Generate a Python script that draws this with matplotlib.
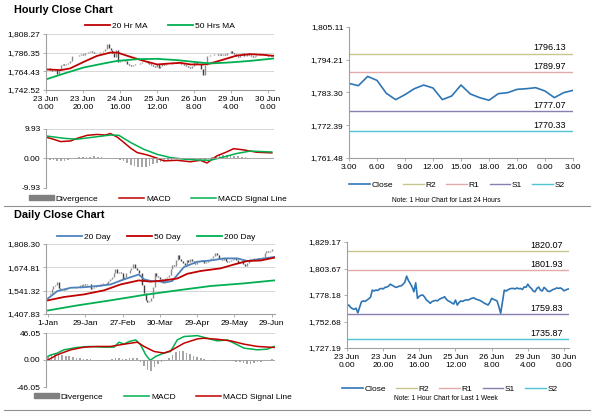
import numpy as np
import matplotlib.pyplot as plt
from matplotlib.lines import Line2D
from matplotlib.patches import Patch

plt.rcParams["font.family"] = ["Liberation Sans", "DejaVu Sans"]

# ---- hourly data (one week, bar index) ----
hourly_ticks = ["23 Jun\n0.00", "23 Jun\n20.00", "24 Jun\n16.00", "25 Jun\n12.00",
                "26 Jun\n8.00", "29 Jun\n4.00", "30 Jun\n0.00"]
hourly_close = [
    1767.9, 1768.5, 1766.3, 1765.0, 1764.4, 1765.5, 1761.0, 1766.5, 1771.7, 1772.5,
    1772.0, 1773.3, 1774.5, 1776.0, 1782.9, 1782.0, 1783.0, 1782.5, 1784.0, 1784.5,
    1784.0, 1785.5, 1785.8, 1786.8, 1788.6, 1787.5, 1786.5, 1785.5, 1786.0, 1786.8,
    1787.0, 1788.5, 1790.5, 1796.3, 1792.0, 1789.2, 1786.0, 1781.3, 1789.9, 1774.9,
    1777.0, 1778.0, 1778.1, 1776.0, 1773.3, 1772.0, 1770.2, 1771.8, 1772.5, 1773.0,
    1772.5, 1774.0, 1774.9, 1775.5, 1776.5, 1774.0, 1772.5, 1771.7, 1770.5, 1769.5,
    1773.3, 1768.5, 1771.0, 1772.5, 1772.0, 1773.0, 1773.5, 1773.3, 1774.2, 1775.0,
    1775.5, 1774.5, 1773.8, 1773.3, 1772.5, 1771.5, 1770.2, 1769.5, 1768.5, 1771.0,
    1774.9, 1774.0, 1773.3, 1772.5, 1766.9, 1760.6, 1771.5, 1782.9, 1782.0, 1783.2,
    1784.0, 1784.5, 1784.5, 1784.0, 1785.0, 1784.2, 1784.5, 1783.5, 1786.0, 1785.5,
    1788.6, 1786.0, 1784.5, 1782.0, 1781.3, 1784.5, 1785.8, 1783.0, 1782.0, 1785.5,
    1784.0, 1782.0, 1781.5, 1782.5, 1783.5, 1784.0, 1785.0, 1784.5, 1785.0, 1784.0,
    1782.2, 1783.0, 1783.8, 1784.0]

ma20_x = [0, 8, 13, 20.5, 27.7, 34.9, 38.6, 45.8, 53, 60.2, 67.4, 72.8, 78.2, 85.4, 89, 96.2, 103.4, 110.6, 117.8, 123.2]
ma20_y = [1766.7, 1765.9, 1767.8, 1775.6, 1782.6, 1786.5, 1786.5, 1781.4, 1776.7, 1772.5,
          1773.7, 1774.4, 1772.5, 1772.5, 1773.7, 1778.3, 1783.0, 1784.6, 1783.8, 1782.6]
ma50_x = [0, 10, 20.5, 31.3, 38.6, 49.4, 60.2, 71, 81.8, 89, 99.8, 110.6, 123.2]
ma50_y = [1755.0, 1762.0, 1769.0, 1773.7, 1776.7, 1778.7, 1779.1, 1777.6, 1775.2, 1773.7,
          1774.9, 1776.7, 1779.5]

hmacd_x = [0, 3.9, 7.9, 13.3, 16.9, 22.3, 27.7, 32.2, 34.9, 38.6, 42.2, 45.8, 49.4, 54.8, 60.2,
           63.8, 71, 78.2, 83.6, 87.2, 92.6, 97.1, 101.6, 107, 114.2, 122.3]
hmacd_y = [7.2, 6.5, 5.7, 5.9, 6.8, 7.8, 8.1, 7.9, 8.4, 7.2, 5.4, 3.5, 2.0, 1.2, 0.1,
           -0.8, -0.6, -1.1, -0.6, -1.5, 0.9, 2.0, 3.3, 2.9, 2.1, 1.9]
hsig_x = [0, 9.7, 16.9, 25.9, 34.9, 39.5, 45.8, 53, 60.2, 67.4, 74.6, 81.8, 89, 96.2, 103.4, 110.6, 117.8, 122.3]
hsig_y = [7.6, 6.8, 6.5, 7.2, 7.9, 7.8, 5.4, 3.1, 1.4, 0.3, -0.2, -0.5, -0.6, 0.5, 1.7, 2.5, 2.3, 2.2]
hdiv = [-0.2, -0.4, -0.6, -0.8, -0.9, -0.8, -0.5, 0.0, 0.3, 0.4, 0.5, 0.6, 0.6, 0.7, 0.6, 0.5,
        0.3, 0.2, 0.0, -0.2, -0.5, -1.0, -1.6, -2.2, -2.6, -2.9, -3.0, -2.8, -2.4, -2.0, -1.5,
        -1.1, -0.8, -0.6, -0.4, -0.3, -0.2, -0.2, -0.3, -0.4, -0.3, -0.2, -0.3, -0.5, 0.2, 0.6,
        0.9, 1.1, 1.3, 1.3, 1.2, 1.0, 0.8, 0.6, 0.4, 0.3, 0.2, 0.1, 0.0, -0.1, 0.0, 0.0]

# ---- last 24 hours ----
day_ticks = ["3.00", "6.00", "9.00", "12.00", "15.00", "18.00", "21.00", "0.00", "3.00"]
day_close = [1786.33, 1785.56, 1788.65, 1787.33, 1783.02, 1780.92, 1782.58, 1784.56, 1785.78,
             1784.79, 1780.92, 1782.13, 1785.78, 1782.80, 1781.58, 1780.70, 1782.91, 1783.24,
             1784.34, 1784.56, 1784.90, 1783.79, 1781.58, 1783.24, 1784.01]
levels_24h = {"R2": 1796.13, "R1": 1789.97, "S1": 1777.07, "S2": 1770.33}
levels_week = {"R2": 1820.07, "R1": 1801.93, "S1": 1759.83, "S2": 1735.87}

# ---- daily data ----
daily_ticks = ["1-Jan", "29-Jan", "27-Feb", "30-Mar", "29-Apr", "29-May", "29-Jun"]
daily_close = [
    1520, 1528, 1552, 1568, 1575, 1590, 1556, 1553, 1550, 1545,
    1551, 1557, 1555, 1558, 1558, 1556, 1562, 1565, 1571, 1568,
    1578, 1576, 1582, 1577, 1553, 1557, 1560, 1567, 1571, 1566,
    1578, 1583, 1586, 1582, 1598, 1610, 1620, 1640, 1663, 1642,
    1650, 1640, 1607, 1620, 1640, 1645, 1660, 1670, 1695, 1670,
    1660, 1645, 1640, 1575, 1530, 1490, 1475, 1480, 1500, 1560,
    1640, 1625, 1620, 1610, 1605, 1590, 1615, 1620, 1630, 1665,
    1690, 1685, 1715, 1745, 1720, 1710, 1700, 1690, 1715, 1705,
    1720, 1710, 1700, 1695, 1705, 1710, 1715, 1712, 1700, 1708,
    1715, 1720, 1730, 1740, 1755, 1745, 1725, 1720, 1715, 1728,
    1712, 1705, 1710, 1718, 1725, 1728, 1715, 1700, 1705, 1710,
    1695, 1685, 1700, 1715, 1725, 1722, 1728, 1730, 1725, 1728,
    1730, 1735, 1755, 1768, 1765, 1770, 1778, 1782]

d20_x = [0, 5.3, 12.8, 20.3, 27.8, 35.3, 42.8, 51.2, 54.1, 57.8, 63.4, 65.3, 70, 76.6, 84.1, 91.6, 99.1, 106.6, 112.2, 117.9, 127.3]
d20_y = [1497, 1539, 1558, 1561, 1568, 1577, 1606, 1634, 1606, 1597, 1594, 1587, 1597, 1677,
         1707, 1714, 1726, 1726, 1711, 1720, 1734]
d50_x = [0, 9, 20.3, 31.5, 40.9, 51.2, 57.8, 65.3, 72.8, 78.5, 86, 97.2, 104.7, 112.2, 119.8, 127.3]
d50_y = [1486, 1505, 1520, 1543, 1577, 1600, 1593, 1600, 1611, 1638, 1654, 1669, 1691, 1711, 1714, 1730]
d200_x = [0, 16.5, 35.3, 54.1, 72.8, 91.6, 110.4, 127.3]
d200_y = [1428, 1457, 1486, 1517, 1543, 1568, 1583, 1600]

dmacd_x = [0, 1.5, 5.3, 9, 16.5, 24, 31.5, 37.2, 40, 42.8, 45.6, 49.4, 52.2, 55, 57.5, 60.7,
           65.3, 69, 72.8, 76.6, 84.1, 89.7, 95.3, 100.9, 104.7, 110.4, 117.9, 123.5, 127.3]
dmacd_y = [6.2, 8.5, 11.8, 17.4, 21.4, 23.1, 21.9, 22, 30.4, 27, 31.5, 34.3, 25.8, 9, -0.6,
           6.2, 11.8, 14.6, 34.3, 40, 41.6, 37.1, 32.6, 34.3, 28.7, 20.2, 17.4, 18.5, 23.1]
dsig_x = [0, 5.3, 12.8, 20.3, 27.8, 35.3, 42.8, 50.3, 54.1, 59.7, 65.3, 69, 76.6, 84.1, 87.8,
          95.3, 102.9, 110.4, 117.9, 127.3]
dsig_y = [0, 9, 17.4, 21.9, 23.1, 23.1, 27, 30.4, 23.1, 14.6, 11.8, 15.7, 28.7, 36, 37.1,
          35.4, 32.6, 27, 23.1, 21.4]
ddiv = [6, 9, 9.5, 9, 8, 7, 6, 5, 4, 3, 2.5, 2, 1, 0.5, -0.5, -1, -0.5, 0.5, 2, 4, 3, 1.5,
        2, 3.5, 4, 3, -3, -10, -17, -19, -12, -6, -3, -1, 3, 8, 13, 16, 15, 12, 10, 7, 5, 3,
        1, 0, -0.5, -1, -1, -0.5, 0, -1, -2, -3, -4, -5, -6, -6, -5, -4, -3, -1, 0.5, 1]

RED = "#c00000"
GREEN = "#00b050"
BLUE = "#4f81bd"
CLOSE = "#2e75b6"
LVL_COL = {"R2": "#c6c68e", "R1": "#e4aaaa", "S1": "#8a7db0", "S2": "#4cc4d2"}
W, H = 600, 413


def box(x0, y0, x1, y1):
    # pixel box (top-left origin) -> figure fraction
    return [x0 / W, 1 - y1 / H, (x1 - x0) / W, (y1 - y0) / H]


def style(ax, yticks, grid=True):
    for s in ["top", "right"]:
        ax.spines[s].set_visible(False)
    ax.spines["left"].set_color("#a0a0a0")
    ax.spines["bottom"].set_color("#a0a0a0")
    ax.set_yticks(yticks)
    ax.set_yticklabels(["{:,.2f}".format(v) for v in yticks])
    ax.set_ylim(min(yticks), max(yticks))
    ax.tick_params(labelsize=6, length=2, width=0.6, color="#a0a0a0", pad=2)
    if grid:
        ax.yaxis.grid(True, color="#d0d0d0", lw=0.6)
        ax.set_axisbelow(True)


def candles(ax, close, up="#8c8c8c", down="#404040"):
    x = np.arange(len(close))
    c = np.array(close)
    opn = np.r_[c[0], c[:-1]]
    cols = [up if c[i] >= opn[i] else down for i in range(len(c))]
    ax.vlines(x, np.minimum(opn, c), np.maximum(opn, c) + 0.01, colors=cols, lw=1.0)


def macd_panel(ax, div_x, div, m_x, m_y, s_x, s_y, lim, m_col, s_col, xlim):
    ax.bar(div_x, div, width=0.9, color="#a6a6a6")
    ax.plot(m_x, m_y, color=m_col, lw=1.1)
    ax.plot(s_x, s_y, color=s_col, lw=1.1)
    style(ax, [-lim, 0, lim])
    ax.axhline(0, color="#a0a0a0", lw=0.6)
    ax.spines["bottom"].set_visible(False)
    ax.set_xticks([])
    ax.set_xlim(*xlim)


def level_panel(ax, close, levels, yticks, xticks, xlabels, xlim):
    ax.plot(np.arange(len(close)), close, color=CLOSE, lw=1.2)
    for k, v in levels.items():
        ax.axhline(v, color=LVL_COL[k], lw=1.0)
        ax.text(xlim[1] - 0.03 * (xlim[1] - xlim[0]), v + 0.012 * (yticks[-1] - yticks[0]),
                "{:.2f}".format(v), ha="right", va="bottom", fontsize=6.5)
    style(ax, yticks, grid=False)
    ax.set_xticks(xticks)
    ax.set_xticklabels(xlabels)
    ax.set_xlim(*xlim)


fig = plt.figure(figsize=(6, 4.13), dpi=100)

# section titles and separators
fig.text(14 / W, 1 - 10 / H, "Hourly Close Chart", fontsize=7.8, fontweight="bold", va="center")
fig.text(14 / W, 1 - 215 / H, "Daily Close Chart", fontsize=7.8, fontweight="bold", va="center")
for yy in [206, 410]:
    fig.add_artist(Line2D([4 / W, 590 / W], [1 - yy / H, 1 - yy / H], color="#909090", lw=0.8))

# hourly main
ax1 = fig.add_axes(box(46, 34, 274, 90))
hx = (0, 123.5)
candles(ax1, hourly_close)
ax1.plot(ma20_x, ma20_y, color=RED, lw=1.3, label="20 Hr MA")
ax1.plot(ma50_x, ma50_y, color=GREEN, lw=1.3, label="50 Hrs MA")
style(ax1, [1742.52, 1764.43, 1786.35, 1808.27])
ax1.set_xticks(np.arange(0, 121, 20))
ax1.set_xticklabels(hourly_ticks)
ax1.set_xlim(*hx)
ax1.legend(loc="center", bbox_to_anchor=(0.5, 1.14), ncol=2, frameon=False, fontsize=6,
           handlelength=3, columnspacing=2.5, handletextpad=0.2)

# hourly macd
ax2 = fig.add_axes(box(46, 129, 274, 188))
macd_panel(ax2, np.arange(0, 124, 2), hdiv, hmacd_x, hmacd_y, hsig_x, hsig_y, 9.93, RED, GREEN, hx)
fig.legend(handles=[Patch(color="#808080"), Line2D([], [], color=RED, lw=1.1),
                    Line2D([], [], color=GREEN, lw=1.1)],
           labels=["Divergence", "MACD", "MACD Signal Line"], loc="center",
           bbox_to_anchor=(158 / W, 1 - 199 / H), ncol=3, frameon=False, fontsize=6,
           handlelength=3, handleheight=0.5, columnspacing=2.5, handletextpad=0.2)

# last 24 hours
ax3 = fig.add_axes(box(349, 27, 573, 158))
level_panel(ax3, day_close, levels_24h, [1761.48, 1772.39, 1783.30, 1794.21, 1805.11],
            np.arange(0, 25, 3), day_ticks, (0, 24))
lh = [Line2D([], [], color=CLOSE, lw=1.2)] + [Line2D([], [], color=LVL_COL[k], lw=1) for k in levels_24h]
fig.legend(handles=lh, labels=["Close", "R2", "R1", "S1", "S2"], loc="center",
           bbox_to_anchor=(457 / W, 1 - 185 / H), ncol=5, frameon=False, fontsize=6,
           handlelength=2.5, columnspacing=1.2, handletextpad=0.2)
fig.text(446 / W, 1 - 201 / H, "Note: 1 Hour Chart for Last 24 Hours", fontsize=4.8, ha="center", va="center")

# daily main
ax4 = fig.add_axes(box(46, 244, 275, 314))
dx = (-1.1, 127.8)
candles(ax4, daily_close)
ax4.plot(d20_x, d20_y, color=BLUE, lw=1.3, label="20 Day")
ax4.plot(d50_x, d50_y, color=RED, lw=1.3, label="50 Day")
ax4.plot(d200_x, d200_y, color=GREEN, lw=1.3, label="200 Day")
style(ax4, [1407.83, 1541.32, 1674.81, 1808.30])
ax4.set_xticks(np.arange(0, 127, 21))
ax4.set_xticklabels(daily_ticks)
ax4.set_xlim(*dx)
ax4.legend(loc="center", bbox_to_anchor=(0.48, 1.105), ncol=3, frameon=False, fontsize=6,
           handlelength=3, columnspacing=2.0, handletextpad=0.2)

# daily macd
ax5 = fig.add_axes(box(46, 333, 275, 387))
macd_panel(ax5, np.arange(0, 128, 2), ddiv, dmacd_x, dmacd_y, dsig_x, dsig_y, 46.05, GREEN, RED, dx)
fig.legend(handles=[Patch(color="#808080"), Line2D([], [], color=GREEN, lw=1.1),
                    Line2D([], [], color=RED, lw=1.1)],
           labels=["Divergence", "MACD", "MACD Signal Line"], loc="center",
           bbox_to_anchor=(163 / W, 1 - 397 / H), ncol=3, frameon=False, fontsize=6,
           handlelength=3, handleheight=0.5, columnspacing=2.5, handletextpad=0.2)

# last week
ax6 = fig.add_axes(box(347, 242, 569, 348))
level_panel(ax6, hourly_close, levels_week, [1727.19, 1752.68, 1778.18, 1803.67, 1829.17],
            np.arange(0, 121, 20), hourly_ticks, (0, 122.8))
fig.legend(handles=lh, labels=["Close", "R2", "R1", "S1", "S2"], loc="center",
           bbox_to_anchor=(450 / W, 1 - 389 / H), ncol=5, frameon=False, fontsize=6,
           handlelength=2.5, columnspacing=1.2, handletextpad=0.2)
fig.text(446 / W, 1 - 398 / H, "Note: 1 Hour Chart for Last 1 Week", fontsize=4.8, ha="center", va="center")

fig.savefig("out.png", dpi=100)
